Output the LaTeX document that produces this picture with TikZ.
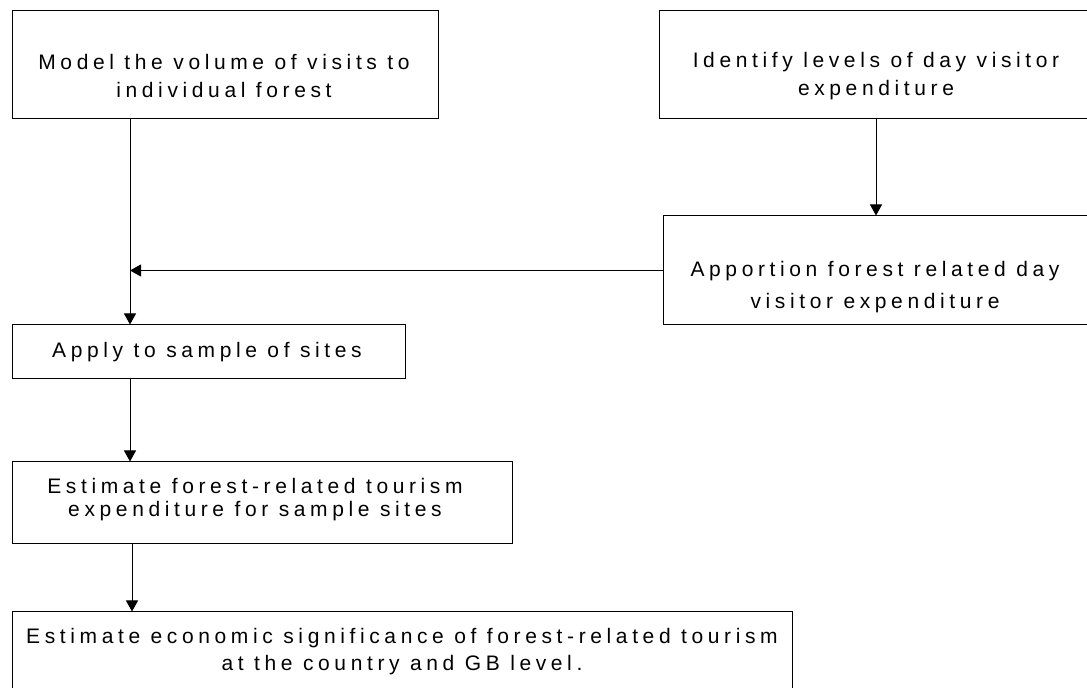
\documentclass[tikz,border=0pt]{standalone}
\usepackage{fontspec}
\setmainfont{Liberation Sans}[LetterSpace=22]
\usepackage{tikz}
\usetikzlibrary{arrows.meta, positioning, calc}

\begin{document}
\begin{tikzpicture}[x=0.5pt, y=-0.5pt,
  box/.style={draw=black, line width=0.5pt, inner sep=0pt},
  txt/.style={font=\fontsize{10.5}{#1}\selectfont, align=center, inner sep=0pt},
  arr/.style={-{Triangle[length=5.5pt, width=6pt]}, line width=0.5pt}]
\useasboundingbox (0,0) rectangle (1087,688);
\fill[white] (0,0) rectangle (1087,688);
\node[box, minimum width=213pt, minimum height=54pt] (model) at (225,65) {};
\node[txt=14pt] (modeltxt) at (224,76) {Model the volume of visits to\\individual forest};
\node[box, minimum width=217pt, minimum height=54pt] (identify) at (876,65) {};
\node[txt=14pt] (identifytxt) at (876,76) {Identify levels of day visitor\\expenditure};
\node[box, minimum width=214pt, minimum height=54.5pt] (apportion) at (877,270.5) {};
\node[txt=16pt] (apportiontxt) at (875,287) {Apportion forest related day\\visitor expenditure};
\node[box, minimum width=196.5pt, minimum height=27pt] (apply) at (208.5,352) {};
\node[txt=14pt] (applytxt) at (207,352) {Apply to sample of sites};
\node[box, minimum width=250pt, minimum height=41pt] (sites) at (262,503) {};
\node[txt=11.5pt] (sitestxt) at (255,500) {Estimate forest-related tourism\\expenditure for sample sites};
\node[box, minimum width=390pt, minimum height=44pt] (gb) at (402,656) {};
\node[txt=13.5pt] (gbtxt) at (402,652) {Estimate economic significance of forest-related tourism\\at the country and GB level.};
\coordinate (trunk) at (130,0);
\coordinate (trunkb) at (132,0);
\draw[arr] (trunk |- model.south) -- (trunk |- apply.north);
\draw[arr] (identify.south) -- (identify.south |- apportion.north);
\draw[arr] (apportion.west) -- (trunk |- apportion.west);
\draw[arr] (trunk |- apply.south) -- (trunk |- sites.north);
\draw[arr] (trunkb |- sites.south) -- (trunkb |- gb.north);
\end{tikzpicture}
\end{document}
